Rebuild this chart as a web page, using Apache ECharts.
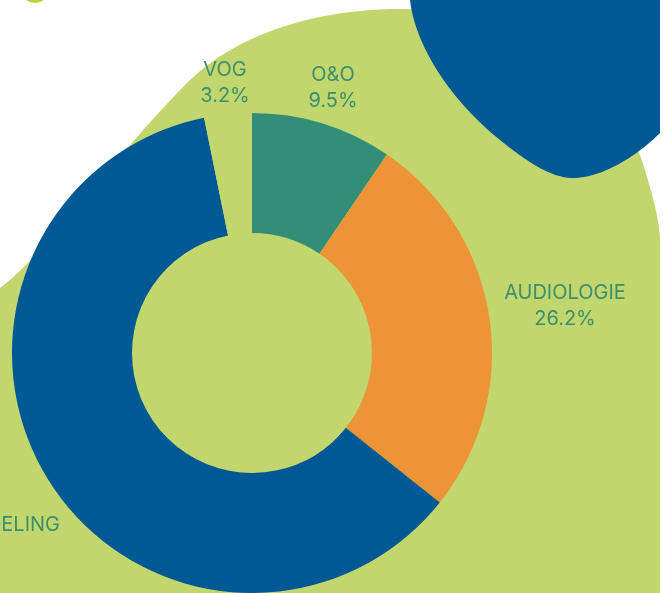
<!DOCTYPE html>
<html>
<head>
<meta charset="utf-8">
<script src="https://cdn.jsdelivr.net/npm/echarts@6/dist/echarts.min.js"></script>
<style>
    html, body { margin: 0; padding: 0; background: #ffffff; }
    #chart { width: 670px; height: 593px; }
</style>
</head>
<body>
<div id="chart"></div>
<script>
// Données
const categories = ['O&O', 'AUDIOLOGIE', 'DIAGNOSTIEK & BEHANDELING', 'VOG'];
const shares = [9.5, 26.2, 61.1, 3.2];

// Couleurs des parts (VOG = couleur du fond)
const sliceColors = ['#328e76', '#ec9436', '#005894', '#c2d66e'];
const textColor = '#3a8f6c';

// Position des étiquettes (centre du bloc de texte, en px)
const labelSpots = [[333, 88], [565, 306], [60, 538], [225, 83]];

// Formes décoratives du fond : point de départ puis segments de Bézier cubiques
const greenBlob = [[0, 593], [0, 288],
    [[50, 250], [110, 160], [190, 80]],
    [[240, 32], [320, 9], [400, 9]],
    [[520, 9], [615, 70], [645, 170]],
    [[654, 200], [660, 225], [660, 240]],
    [660, 593]];
const blueBlob = [[410, 0],
    [[415, 45], [450, 100], [500, 140]],
    [[525, 160], [550, 178], [573, 178]],
    [[600, 178], [635, 158], [660, 133]],
    [660, 0]];

// Transformer les segments en liste de points pour un polygone
function blobPoints(segments) {
    const pts = [];
    let last = null;
    segments.forEach(seg => {
        if (typeof seg[0] === 'number') {
            pts.push(seg);
            last = seg;
            return;
        }
        const [c1, c2, p] = seg;
        for (let i = 1; i <= 24; i++) {
            const t = i / 24, u = 1 - t;
            pts.push([
                u * u * u * last[0] + 3 * u * u * t * c1[0] + 3 * u * t * t * c2[0] + t * t * t * p[0],
                u * u * u * last[1] + 3 * u * u * t * c1[1] + 3 * u * t * t * c2[1] + t * t * t * p[1]
            ]);
        }
        last = p;
    });
    return pts;
}

function createDonut() {
    const chart = echarts.init(document.getElementById('chart'), null, { renderer: 'canvas' });

    const option = {
        backgroundColor: '#ffffff',
        animation: false,
        graphic: [
            {
                type: 'polygon',
                z: 0,
                silent: true,
                shape: { points: blobPoints(greenBlob) },
                style: { fill: '#c2d66e' }
            },
            {
                type: 'polygon',
                z: 1,
                silent: true,
                shape: { points: blobPoints(blueBlob) },
                style: { fill: '#005894' }
            },
            {
                type: 'circle',
                z: 1,
                silent: true,
                shape: { cx: 35, cy: -12, r: 15 },
                style: { fill: '#b5d334' }
            }
        ],
        series: [{
            type: 'pie',
            z: 5,
            center: [252, 353],
            radius: [120, 240],
            startAngle: 90,
            clockwise: true,
            avoidLabelOverlap: false,
            silent: true,
            itemStyle: { borderWidth: 0 },
            label: {
                show: true,
                position: 'outside',
                formatter: '{b}\n{d}%',
                color: textColor,
                fontFamily: 'Inter',
                fontSize: 20,
                lineHeight: 26,
                align: 'center'
            },
            labelLine: { show: false },
            labelLayout: function (params) {
                const spot = labelSpots[params.dataIndex];
                let x = spot[0];
                // étiquette du bleu : bord droit calé sur spot[0]
                if (params.dataIndex === 2) {
                    x = spot[0] - params.labelRect.width / 2;
                }
                return { x: x, y: spot[1], align: 'center', verticalAlign: 'middle' };
            },
            data: categories.map((name, i) => ({
                name: name,
                value: shares[i],
                itemStyle: { color: sliceColors[i] }
            }))
        }]
    };

    chart.setOption(option);
}

document.addEventListener('DOMContentLoaded', createDonut);
</script>
</body>
</html>
